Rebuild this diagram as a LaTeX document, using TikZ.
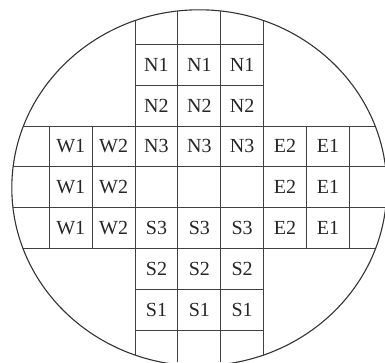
\documentclass[tikz,border=0pt]{standalone}
\usepackage{fontspec}
\setmainfont{Liberation Serif}

\begin{document}
\begin{tikzpicture}[x=1pt, y=-1pt,
    gridline/.style={draw=black!75, line width=0.8pt},
    rim/.style={draw=black!80, line width=1.1pt},
    cell/.style={font=\fontsize{20}{24}\selectfont, inner sep=0pt, text=black!85}
  ]
  \useasboundingbox (0,0) rectangle (385,362);
  \coordinate (wafer) at (199.3,187.8);
  % grid, cut by the wafer edge
  \begin{scope}
    \clip (wafer) ellipse [x radius=187.5pt, y radius=178pt];
    \foreach \i in {2,...,5}
      \draw[gridline] ({49.3+42.86*\i},0) -- ({49.3+42.86*\i},362);
    \foreach \j in {2,...,5}
      \draw[gridline] (0,{44.3+40.8*\j}) -- (385,{44.3+40.8*\j});
    \foreach \j in {0,1,6,7}
      \draw[gridline] (135.0,{44.3+40.8*\j}) -- (263.6,{44.3+40.8*\j});
    \foreach \i in {0,1,6,7}
      \draw[gridline] ({49.3+42.86*\i},125.9) -- ({49.3+42.86*\i},248.3);
  \end{scope}
  \draw[rim] (wafer) ellipse [x radius=187.5pt, y radius=178pt];
  % labels
  \foreach \r/\t in {0/N1,1/N2,2/N3,4/S3,5/S2,6/S1}
    \foreach \k in {2,3,4}
      \node[cell] (\t-\k) at ({49.3+42.86*(\k+0.5)},{44.3+40.8*(\r+0.5)}) {\t};
  \foreach \k/\t in {0/W1,1/W2,5/E2,6/E1}
    \foreach \r in {2,3,4}
      \node[cell] (\t-\r) at ({49.3+42.86*(\k+0.5)},{44.3+40.8*(\r+0.5)}) {\t};
\end{tikzpicture}
\end{document}
